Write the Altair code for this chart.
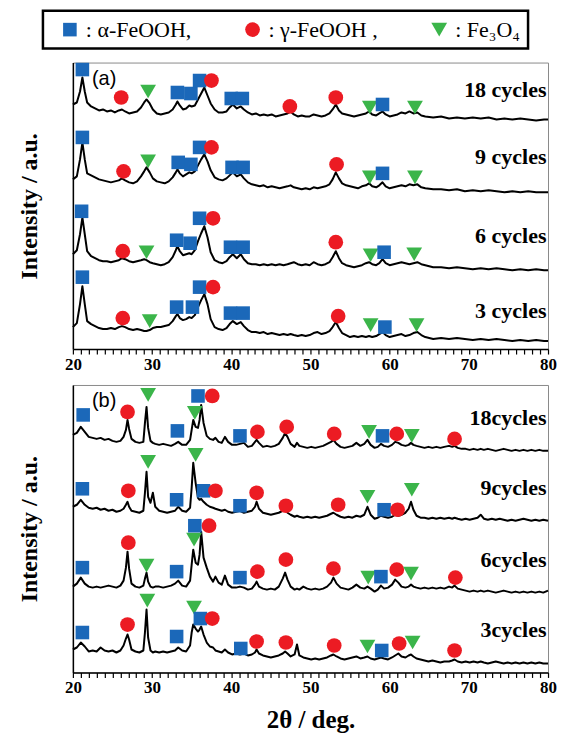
import altair as alt
import pandas as pd

# ---------------- phases / legend ----------------
PHASES = ["α-FeOOH", "γ-FeOOH", "Fe3O4"]
PHASE_CODES = {"a": "α-FeOOH", "g": "γ-FeOOH", "m": "Fe3O4"}
PHASE_COLORS = ["#1b68b9", "#ec1b23", "#3bb54a"]
PHASE_SHAPES = ["square", "circle", "triangle-down"]
PHASE_SIZES = [185, 250, 240]

# ---------------- panel (a) traces ----------------
two_theta_a = [
    20.0, 20.5, 20.9, 21.2, 21.5, 21.8,
    22.3, 22.8, 23.3, 23.8, 24.3, 24.8, 25.3, 25.8, 26.2, 26.6, 27.1, 27.6, 28.1, 28.6,
    29.0, 29.3, 29.7, 30.1, 30.6, 31.1, 31.6, 32.1, 32.6,
    33.0, 33.2, 33.5, 33.9, 34.3, 34.7, 35.0, 35.4, 35.8, 36.2, 36.6, 37.0, 37.4, 37.9,
    38.4, 38.9, 39.4, 39.8, 40.2, 40.7, 41.2, 41.6, 42.1, 42.6,
    43.1, 43.6, 44.1, 44.6, 45.1, 45.6, 46.1, 46.6, 47.1, 47.5, 47.9, 48.4, 48.9, 49.4, 49.9,
    50.4, 50.9, 51.4, 51.9, 52.4, 52.8, 53.2, 53.6, 54.0, 54.5,
    55.0, 55.5, 56.0, 56.5, 57.0, 57.4, 57.8, 58.3, 58.7, 59.1, 59.5,
    60.0, 60.5, 61.0, 61.5, 62.0, 62.5, 63.0, 63.5, 64.0, 64.5,
    65.5, 66.5, 67.5, 68.5, 69.5, 70.5, 71.5, 72.5, 73.5, 74.5, 75.5, 76.5, 77.5, 78.5, 79.5, 80.0,
]

a_18 = [
    245, 247, 258, 272, 258, 247,
    243, 241, 239, 240, 238, 239, 237, 239, 240, 238, 236, 237, 238, 242,
    247, 250, 246, 240, 236, 235, 236, 237, 240,
    245, 248, 244, 240, 241, 244, 243, 244, 250, 256, 262, 254, 246, 240,
    237, 237, 238, 242, 245, 241, 243, 240, 237, 235,
    236, 234, 235, 234, 235, 233, 234, 235, 236, 238, 235, 233, 234, 233, 233,
    235, 234, 233, 234, 236, 240, 245, 239, 236, 235,
    234, 233, 234, 235, 236, 238, 235, 234, 236, 238, 235,
    233, 234, 235, 237, 236, 238, 236, 237, 234, 233,
    232, 233, 231, 232, 231, 232, 231, 232, 230, 231, 230, 231, 230, 229, 230, 230,
]
a_9 = [
    170, 173, 190, 207, 190, 176,
    174, 172, 170, 169, 168, 167, 168, 169, 171, 169, 167, 166, 168, 173,
    178, 182, 177, 171, 168, 167, 166, 168, 172,
    177, 180, 176, 173, 175, 177, 176, 178, 184, 190, 195, 188, 179, 172,
    170, 169, 171, 174, 177, 173, 175, 171, 167, 165,
    164, 163, 164, 162, 163, 162, 161, 162, 163, 164, 162, 161, 160, 161, 160,
    162, 161, 162, 163, 165, 170, 177, 171, 166, 164,
    163, 162, 161, 163, 164, 166, 163, 162, 164, 167, 163,
    161, 162, 163, 164, 163, 165, 164, 165, 162, 161,
    160, 160, 159, 160, 158, 159, 158, 159, 158, 157, 158, 157, 158, 157, 157, 157,
]
a_6 = [
    95, 99, 115, 132, 115, 98,
    93, 91, 89, 88, 88, 87, 88, 89, 91, 90, 88, 87, 88, 89,
    90, 89, 87, 86, 85, 84, 85, 87, 92,
    99, 103, 98, 94, 95, 96, 95, 99, 108, 116, 123, 112, 97, 89,
    87, 86, 88, 92, 95, 91, 95, 90, 86, 85,
    85, 84, 85, 84, 85, 84, 85, 84, 85, 86, 87, 85, 84, 85, 84,
    87, 85, 84, 85, 87, 92, 98, 91, 86, 84,
    83, 82, 83, 84, 86, 87, 85, 84, 86, 90, 86,
    84, 85, 86, 87, 86, 85, 86, 87, 85, 84,
    82, 82, 81, 82, 81, 80, 81, 80, 81, 80, 79, 80, 79, 80, 79, 79,
]
a_3 = [
    22, 26, 45, 63, 45, 28,
    25, 23, 21, 20, 20, 21, 20, 22, 23, 22, 20, 19, 20, 19,
    18, 18, 19, 21, 22, 22, 23, 24, 28,
    33, 35, 31, 29, 30, 32, 31, 34, 42, 49, 55, 45, 30, 22,
    20, 19, 21, 25, 28, 25, 27, 23, 19, 17,
    17, 16, 17, 15, 16, 15, 14, 15, 14, 15, 14, 13, 14, 13, 14,
    16, 17, 15, 16, 18, 22, 27, 21, 16, 14,
    12, 13, 12, 13, 12, 13, 12, 13, 15, 17, 14,
    12, 13, 14, 15, 13, 14, 16, 17, 14, 12,
    10, 11, 10, 11, 10, 9, 10, 9, 10, 9, 8, 9, 8, 9, 8, 8,
]

# ---------------- panel (b) traces ----------------
two_theta_b = [
    20.0, 20.5, 21.0, 21.5, 22.0, 22.5, 23.0, 23.5, 24.0, 24.5, 25.0, 25.5, 26.0,
    26.4, 26.7, 26.9, 27.1, 27.4, 27.9, 28.4, 28.9, 29.1, 29.3, 29.5, 29.8, 30.1, 30.4,
    30.9, 31.4, 31.9, 32.4, 32.9, 33.3, 33.8, 34.3, 34.8, 35.0, 35.2, 35.5, 35.8, 36.0, 36.2, 36.5, 36.9, 37.3,
    37.7, 38.0, 38.4, 38.8, 39.2, 39.6, 40.1, 40.6, 41.1, 41.6, 42.1, 42.6, 43.0, 43.2, 43.5, 44.0,
    44.5, 45.0, 45.5, 46.0, 46.5, 46.8, 47.1, 47.5, 48.0, 48.3, 48.6, 49.1, 49.6,
    50.1, 50.6, 51.1, 51.6, 52.1, 52.6, 52.9, 53.3, 53.8, 54.3, 54.8, 55.3, 55.8, 56.3, 56.8, 57.2, 57.6,
    58.1, 58.5, 58.9, 59.3, 59.8, 60.3, 60.7, 61.1, 61.5, 62.0, 62.4, 62.7, 63.0, 63.4, 63.9,
    64.4, 64.9, 65.4, 65.9, 66.4, 66.9, 67.5, 67.9, 68.2, 68.6, 69.1, 69.6,
    70.1, 70.6, 71.1, 71.5, 71.9, 72.4, 72.9, 73.4, 73.9, 74.4, 74.9, 75.4, 75.9, 76.4, 76.9, 77.4, 77.9, 78.4, 78.9, 79.4, 80.0,
]

b_18 = [
    238, 240, 246, 241, 236, 235, 234, 235, 233, 234, 232, 231, 232,
    236, 243, 253, 244, 234, 231, 230, 231, 250, 266, 245, 232, 230, 229,
    228, 229, 228, 227, 229, 231, 228, 228, 233, 243, 253, 246, 245, 253, 268, 250, 237, 234,
    233, 235, 231, 230, 236, 231, 228, 228, 229, 230, 226, 227, 231, 233, 230, 226,
    227, 226, 227, 229, 235, 240, 236, 229, 226, 230, 227, 226, 225,
    226, 225, 226, 227, 229, 231, 233, 229, 226, 225, 226, 227, 230, 227, 229, 233, 228,
    225, 226, 229, 227, 226, 228, 231, 230, 228, 227, 228, 230, 228, 227, 226,
    225, 226, 225, 226, 225, 226, 227, 226, 227, 225, 224, 224,
    223, 224, 223, 224, 223, 224, 223, 222, 223, 224, 223, 222, 223, 222, 223, 222, 223, 222, 223, 222, 222,
]
b_9 = [
    166, 168, 173, 168, 165, 164, 165, 163, 164, 162, 163, 161, 162,
    164, 168, 171, 166, 162, 161, 160, 162, 180, 201, 176, 170, 180, 166,
    162, 161, 160, 161, 162, 166, 162, 161, 165, 185, 210, 190, 175, 173, 174, 171, 168, 166,
    165, 164, 163, 162, 163, 161, 160, 161, 162, 160, 161, 162, 166, 171, 164, 160,
    159, 158, 159, 160, 162, 163, 160, 158, 156, 157, 156, 155, 156,
    155, 156, 155, 156, 157, 159, 160, 158, 156, 155, 156, 155, 157, 156, 158, 166, 158,
    154, 155, 157, 156, 155, 156, 158, 157, 158, 160, 164, 171, 163, 157, 155,
    155, 154, 155, 154, 155, 154, 155, 154, 155, 154, 153, 154,
    153, 154, 155, 158, 154, 153, 154, 153, 154, 153, 152, 153, 152, 153, 154, 153, 152, 153, 152, 153, 152,
]
b_6 = [
    86, 89, 95, 89, 86, 85, 86, 85, 86, 87, 86, 85, 87,
    92, 105, 121, 104, 89, 86, 85, 87, 94, 100, 91, 86, 85, 86,
    86, 85, 86, 87, 89, 92, 87, 86, 92, 108, 123, 110, 108, 118, 141, 115, 105, 96,
    91, 96, 90, 88, 97, 88, 85, 85, 86, 85, 83, 84, 88, 91, 86, 84,
    83, 84, 83, 86, 94, 100, 93, 86, 83, 84, 83, 86, 84,
    83, 84, 83, 84, 86, 90, 95, 89, 85, 84, 83, 85, 88, 85, 84, 86, 84,
    81, 83, 87, 84, 85, 88, 93, 90, 86, 85, 86, 88, 86, 85, 84,
    85, 84, 85, 84, 85, 84, 86, 85, 87, 84, 83, 82,
    81, 82, 81, 82, 81, 82, 81, 80, 81, 82, 81, 80, 81, 80, 81, 80, 81, 80, 81, 80, 82,
]
b_3 = [
    23, 25, 30, 26, 21, 22, 21, 25, 22, 21, 22, 20, 22,
    27, 34, 38, 33, 23, 21, 20, 22, 40, 63, 35, 22, 20, 21,
    20, 21, 20, 21, 22, 25, 22, 21, 27, 40, 48, 44, 41, 43, 46, 38, 30, 26,
    25, 22, 21, 20, 23, 20, 18, 19, 18, 19, 17, 18, 20, 23, 19, 17,
    16, 15, 16, 17, 19, 21, 19, 16, 18, 28, 17, 15, 14,
    13, 14, 13, 14, 15, 17, 18, 16, 14, 13, 14, 15, 16, 14, 15, 16, 14,
    13, 14, 15, 14, 13, 15, 17, 19, 16, 15, 17, 18, 16, 14, 13,
    12, 11, 12, 11, 10, 11, 11, 12, 13, 11, 10, 11,
    10, 11, 10, 11, 10, 9, 10, 11, 10, 9, 10, 9, 10, 9, 10, 9, 10, 9, 10, 9, 9,
]

# ---------------- phase markers (2θ, height, phase) ----------------
markers_a = [
    (21.2, 280, "a"), (26.1, 252, "g"), (29.5, 258, "m"), (33.2, 257, "a"), (34.9, 256, "a"),
    (36.0, 269, "a"), (37.5, 269, "g"), (40.0, 251, "a"), (41.4, 251, "a"), (47.4, 243, "g"),
    (53.2, 252, "g"), (57.5, 242, "m"), (59.1, 245, "a"), (63.2, 242, "m"),
    (21.2, 212, "a"), (26.4, 178, "g"), (29.5, 188, "m"), (33.3, 187, "a"), (34.9, 185, "a"),
    (36.0, 202, "a"), (37.5, 202, "g"), (40.1, 182, "a"), (41.5, 182, "a"), (53.3, 185, "g"),
    (57.5, 172, "m"), (59.1, 176, "a"), (63.2, 172, "m"),
    (21.1, 138, "a"), (26.3, 98, "g"), (29.3, 97, "m"), (33.1, 109, "a"), (34.8, 106, "a"),
    (36.0, 131, "a"), (37.7, 131, "g"), (39.9, 102, "a"), (41.5, 102, "a"), (53.2, 107, "g"),
    (57.6, 94, "m"), (59.3, 97, "a"), (63.1, 95, "m"),
    (21.2, 72, "a"), (26.3, 31, "g"), (29.7, 28, "m"), (33.1, 42, "a"), (35.1, 42, "a"),
    (36.0, 62, "a"), (37.7, 62, "g"), (39.9, 36, "a"), (41.5, 36, "a"), (53.5, 33, "g"),
    (57.6, 24, "m"), (59.4, 22, "a"), (63.4, 24, "m"),
]
markers_b = [
    (21.3, 258, "a"), (26.9, 261, "g"), (29.5, 278, "m"), (33.2, 242, "a"), (35.4, 260, "m"),
    (35.8, 277, "a"), (37.6, 277, "g"), (41.1, 237, "a"), (43.3, 241, "g"), (47.0, 246, "g"),
    (53.0, 239, "g"), (57.4, 241, "m"), (59.1, 237, "a"), (60.9, 239, "g"), (62.8, 237, "m"),
    (68.2, 234, "g"),
    (21.2, 184, "a"), (27.0, 182, "g"), (29.5, 211, "m"), (33.1, 173, "a"), (35.5, 218, "m"),
    (36.5, 182, "a"), (38.0, 182, "g"), (41.1, 167, "a"), (43.2, 180, "g"), (46.9, 167, "g"),
    (53.5, 168, "g"), (57.2, 176, "m"), (59.3, 163, "a"), (61.0, 163, "g"), (62.8, 183, "m"),
    (21.2, 105, "a"), (27.0, 130, "g"), (29.3, 107, "m"), (33.1, 101, "a"), (35.3, 133, "m"),
    (35.4, 147, "a"), (37.2, 147, "g"), (41.1, 95, "a"), (43.3, 101, "g"), (46.9, 113, "g"),
    (52.9, 104, "g"), (57.3, 95, "m"), (58.9, 96, "a"), (60.9, 103, "g"), (62.7, 99, "m"),
    (68.3, 95, "g"),
    (21.2, 40, "a"), (26.9, 48, "g"), (29.4, 72, "m"), (33.1, 36, "a"), (35.3, 65, "m"),
    (36.1, 54, "a"), (37.6, 54, "g"), (41.2, 24, "a"), (43.2, 31, "g"), (46.9, 30, "g"),
    (53.0, 27, "g"), (57.2, 26, "m"), (59.0, 22, "a"), (61.2, 29, "g"), (62.9, 30, "m"),
    (68.2, 22, "g"),
]

# ---------------- text labels (text, 2θ, height) ----------------
labels_a = [("18 cycles", 79.8, 260), ("9 cycles", 79.8, 192), ("6 cycles", 79.8, 113),
            ("3 cycles", 79.8, 38)]
labels_b = [("18cycles", 79.8, 255), ("9cycles", 79.8, 185), ("6cycles", 79.8, 113),
            ("3cycles", 79.8, 43)]
tag_a = [("(a)", 22.4, 271)]
tag_b = [("(b)", 22.4, 272)]

HEIGHT_A = 287
HEIGHT_B = 288
WIDTH = 476

SERIF = "Liberation Serif"

LABEL_EXPR = ("datum.label === 'α-FeOOH' ? ': α-FeOOH,' : "
              "datum.label === 'γ-FeOOH' ? ': γ-FeOOH ,' : ': Fe₃O₄'")


def trace_df(grid, traces):
    rows = []
    for name, ys in traces:
        n = min(len(grid), len(ys))
        for x, y in zip(grid[:n], ys[:n]):
            rows.append({"two_theta": x, "intensity": y, "sample": name})
    return pd.DataFrame(rows)


def marker_df(markers):
    return pd.DataFrame(
        [{"two_theta": x, "intensity": y, "phase": PHASE_CODES[p]} for x, y, p in markers]
    )


def text_df(items):
    return pd.DataFrame([{"label": t, "two_theta": x, "intensity": y} for t, x, y in items])


def panel(lines_df, mk_df, lab_df, tag_df, height, show_legend, x_title):
    x_axis = alt.Axis(
        values=list(range(20, 81)),
        labelExpr="datum.value % 10 === 0 ? datum.label : ''",
        labelOverlap=False, labelFlush=False, labelBound=False,
        ticks=True, tickSize=5, tickColor="black", tickWidth=1.2,
        domainColor="black", domainWidth=1.5,
        labelFont=SERIF, labelFontWeight="bold", labelFontSize=17, labelColor="black",
        labelPadding=2, grid=False,
        title=x_title, titleFont=SERIF, titleFontWeight="bold", titleFontSize=25,
        titleColor="black", titlePadding=12,
    )
    y_axis = alt.Axis(
        labels=False, ticks=False, grid=False, domainColor="black", domainWidth=1.5,
        title="Intensity / a.u.", titleFont=SERIF, titleFontWeight="bold",
        titleFontSize=24, titleColor="black", titlePadding=31,
    )
    xs = alt.Scale(domain=[20, 80], nice=False, zero=False)
    ys = alt.Scale(domain=[0, height], nice=False, zero=False)
    X = alt.X("two_theta:Q", scale=xs, axis=x_axis)
    Y = alt.Y("intensity:Q", scale=ys, axis=y_axis)

    if show_legend:
        leg = alt.Legend(
            title=None, orient="none", legendX=-30, legendY=-52, direction="horizontal",
            labelExpr=LABEL_EXPR, labelFont=SERIF, labelFontSize=22, labelColor="black",
            symbolSize=290, symbolStrokeWidth=0, symbolOffset=8, columnPadding=42,
            labelOffset=5, padding=8, strokeColor="black", labelLimit=300,
        )
    else:
        leg = None

    lines = alt.Chart(lines_df).mark_line(color="black", strokeWidth=2, strokeJoin="round").encode(
        x=X, y=Y, detail="sample:N",
    )
    points = alt.Chart(mk_df).mark_point(filled=True, opacity=1, strokeWidth=0).encode(
        x=X, y=Y,
        color=alt.Color("phase:N", scale=alt.Scale(domain=PHASES, range=PHASE_COLORS), legend=leg),
        shape=alt.Shape("phase:N", scale=alt.Scale(domain=PHASES, range=PHASE_SHAPES), legend=leg),
        size=alt.Size("phase:N", scale=alt.Scale(domain=PHASES, range=PHASE_SIZES), legend=None),
    )
    labels = alt.Chart(lab_df).mark_text(
        align="right", baseline="middle", font=SERIF, fontWeight="bold", fontSize=22, color="black"
    ).encode(x=X, y=Y, text="label:N")
    tag = alt.Chart(tag_df).mark_text(
        align="left", baseline="middle", font="Liberation Sans", fontSize=20, color="black"
    ).encode(x=X, y=Y, text="label:N")
    return alt.layer(lines, points, labels, tag).properties(width=WIDTH, height=height)


df_a = trace_df(two_theta_a, [("18 cycles", a_18), ("9 cycles", a_9), ("6 cycles", a_6), ("3 cycles", a_3)])
df_b = trace_df(two_theta_b, [("18cycles", b_18), ("9cycles", b_9), ("6cycles", b_6), ("3cycles", b_3)])

panel_a = panel(df_a, marker_df(markers_a), text_df(labels_a), text_df(tag_a), HEIGHT_A, True, None)
panel_b = panel(df_b, marker_df(markers_b), text_df(labels_b), text_df(tag_b), HEIGHT_B, False, "2θ / deg.")

chart = alt.vconcat(panel_a, panel_b, spacing=36, bounds="flush").resolve_scale(
    color="independent", shape="independent", size="independent"
).properties(
    padding={"left": 9, "top": 0, "right": 0, "bottom": 0}
).configure_view(
    stroke="#8a8a8a", strokeWidth=1
).configure_legend(
    strokeWidth=2.5
)

chart.save("out.html", embed_options={"renderer": "svg", "actions": False})
